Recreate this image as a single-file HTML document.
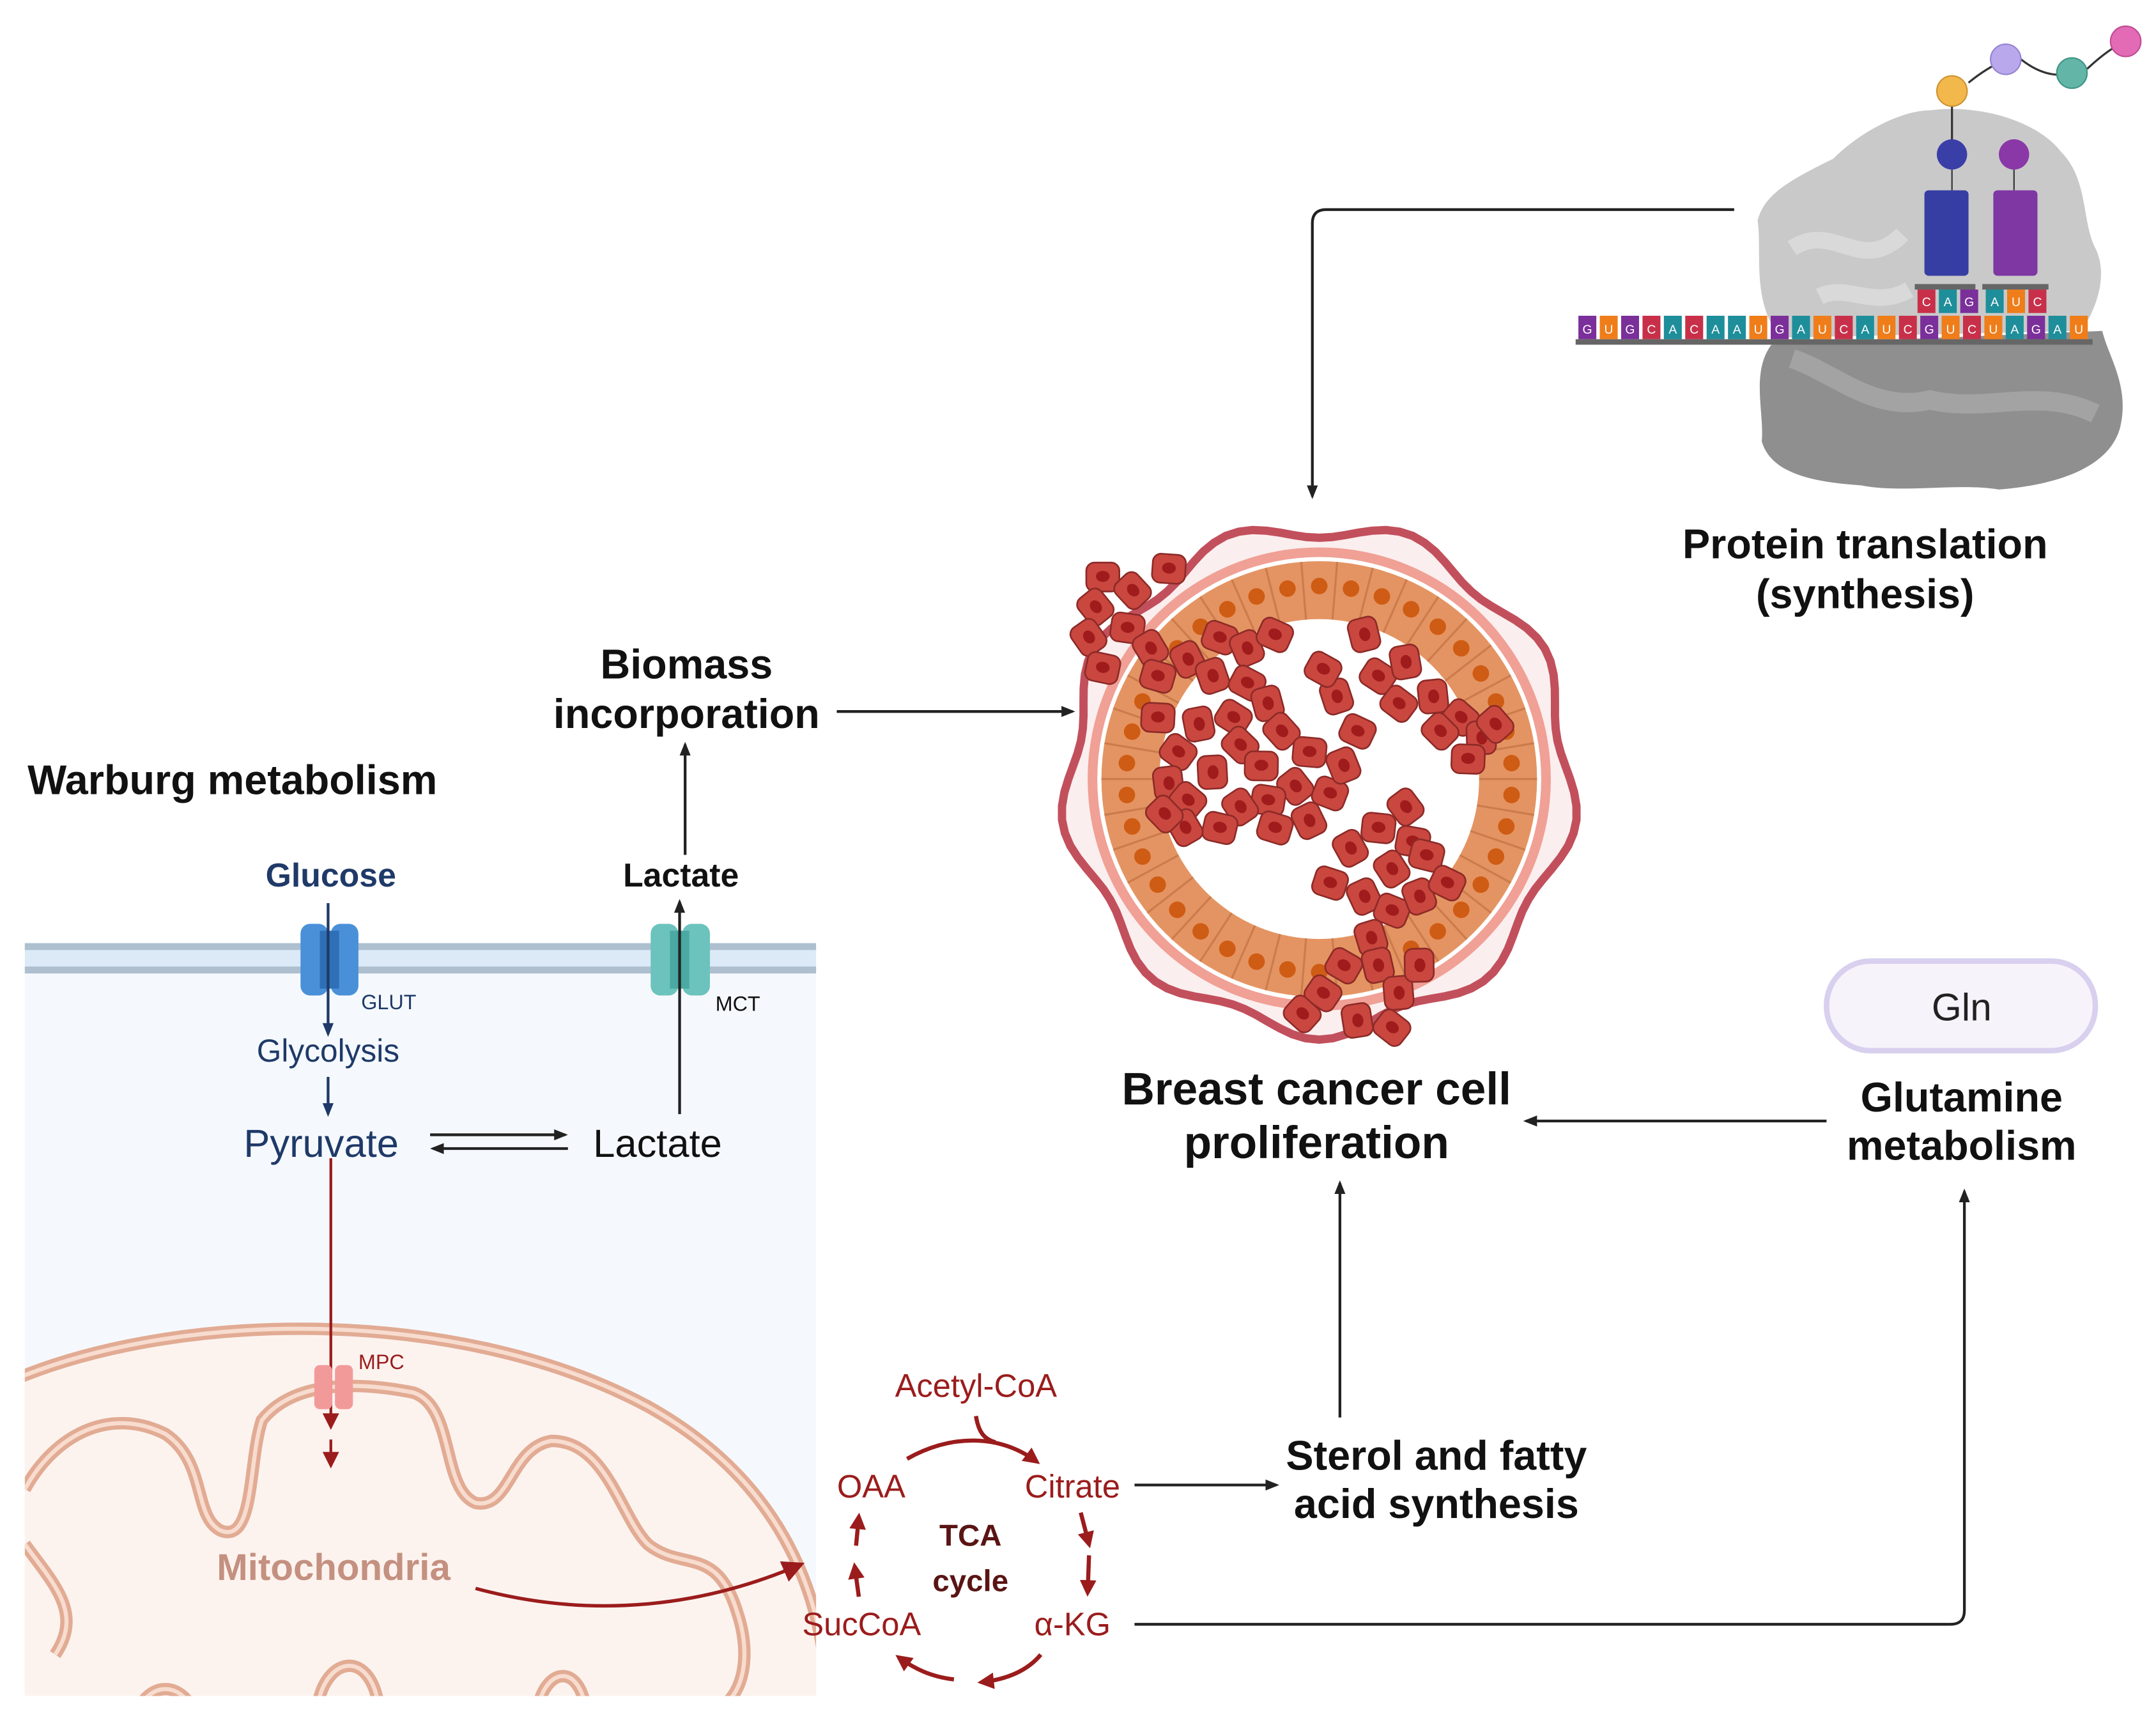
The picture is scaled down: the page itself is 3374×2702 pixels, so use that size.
<!DOCTYPE html>
<html><head><meta charset="utf-8"><style>
html,body{margin:0;padding:0;background:#fff}
svg{display:block}
text{font-family:"Liberation Sans",sans-serif}
.b{font-weight:bold}
</style></head><body>
<svg id="s" width="3374" height="2702" viewBox="0 0 1564 1252.5" xmlns="http://www.w3.org/2000/svg">
<defs>
<marker id="ak" markerWidth="10" markerHeight="10" refX="8" refY="5" orient="auto" markerUnits="userSpaceOnUse"><path d="M0,1 L10,5 L0,9 Z" fill="#222"/></marker>
<marker id="an" markerWidth="10" markerHeight="10" refX="8" refY="5" orient="auto" markerUnits="userSpaceOnUse"><path d="M0,1 L10,5 L0,9 Z" fill="#1f3a68"/></marker>
<marker id="ar" markerWidth="12" markerHeight="12" refX="9" refY="6" orient="auto" markerUnits="userSpaceOnUse"><path d="M0,0 L12,6 L0,12 Z" fill="#9b1c1c"/></marker>
<marker id="ar2" markerWidth="16" markerHeight="16" refX="12" refY="8" orient="auto" markerUnits="userSpaceOnUse"><path d="M0,0 L16,8 L0,16 Z" fill="#9b1c1c"/></marker>
<clipPath id="cell"><rect x="18" y="700" width="574" height="530"/></clipPath>
</defs>
<rect width="1564" height="1252.5" fill="#fff"/>

<rect x="18" y="700" width="574" height="530" fill="#f5f9fd"/>
<rect x="18" y="687" width="574" height="17" fill="#dce9f7"/>
<rect x="18" y="684" width="574" height="5" fill="#aebfcf"/>
<rect x="18" y="701" width="574" height="5" fill="#aebfcf"/>

<g clip-path="url(#cell)">
<path d="M0,1005 C120,950 330,945 470,1020 C560,1070 600,1150 600,1240 L0,1240 Z" fill="#fcf3ef" stroke="#e2ab93" stroke-width="9"/>
<path d="M0,1005 C120,950 330,945 470,1020 C560,1070 600,1150 600,1240" fill="none" stroke="#f7dccf" stroke-width="3"/>
<path d="M18,1080 C40,1040 80,1020 120,1040 C150,1060 140,1100 160,1110 C185,1120 180,1060 190,1030 C210,1005 250,1000 300,1010 C330,1020 320,1080 345,1090 C370,1095 370,1050 400,1045 C440,1045 450,1100 470,1120 C495,1140 520,1120 535,1170 C545,1200 540,1230 520,1240 M18,1120 C40,1150 60,1170 40,1200 M100,1240 C110,1220 130,1220 140,1240 M230,1240 C235,1200 270,1195 275,1240 M390,1240 C395,1210 420,1205 425,1240" fill="none" stroke="#e2ab93" stroke-width="9"/>
<path d="M18,1080 C40,1040 80,1020 120,1040 C150,1060 140,1100 160,1110 C185,1120 180,1060 190,1030 C210,1005 250,1000 300,1010 C330,1020 320,1080 345,1090 C370,1095 370,1050 400,1045 C440,1045 450,1100 470,1120 C495,1140 520,1120 535,1170 C545,1200 540,1230 520,1240 M18,1120 C40,1150 60,1170 40,1200 M100,1240 C110,1220 130,1220 140,1240 M230,1240 C235,1200 270,1195 275,1240 M390,1240 C395,1210 420,1205 425,1240" fill="none" stroke="#f7dccf" stroke-width="3"/>
</g>

<text x="20" y="576" font-size="30" class="b" fill="#111">Warburg metabolism</text>

<rect x="218" y="670" width="20" height="52" rx="7" fill="#4a90d9"/>
<rect x="240" y="670" width="20" height="52" rx="7" fill="#4a90d9"/>
<rect x="232" y="675" width="14" height="42" fill="#2f6fb5"/>
<text x="240" y="643" font-size="24" class="b" fill="#1f3a68" text-anchor="middle">Glucose</text>
<line x1="238" y1="655" x2="238" y2="750" stroke="#1f3a68" stroke-width="2" marker-end="url(#an)"/>
<text x="262" y="732" font-size="15" fill="#1f3a68">GLUT</text>
<text x="238" y="770" font-size="23" fill="#1f3a68" text-anchor="middle">Glycolysis</text>
<line x1="238" y1="781" x2="238" y2="808" stroke="#1f3a68" stroke-width="2" marker-end="url(#an)"/>
<text x="233" y="839" font-size="28.5" fill="#1f3a68" text-anchor="middle">Pyruvate</text>
<line x1="312" y1="823" x2="410" y2="823" stroke="#222" stroke-width="2" marker-end="url(#ak)"/>
<line x1="412" y1="833" x2="314" y2="833" stroke="#222" stroke-width="2" marker-end="url(#ak)"/>
<text x="477" y="839" font-size="28.5" fill="#111" text-anchor="middle">Lactate</text>

<rect x="472" y="670" width="20" height="52" rx="7" fill="#6cc3bd"/>
<rect x="495" y="670" width="20" height="52" rx="7" fill="#6cc3bd"/>
<rect x="486" y="675" width="14" height="42" fill="#4aa9a2"/>
<line x1="493" y1="808" x2="493" y2="654" stroke="#222" stroke-width="2" marker-end="url(#ak)"/>
<text x="519" y="733" font-size="15" fill="#111">MCT</text>
<text x="494" y="643" font-size="24" class="b" fill="#111" text-anchor="middle">Lactate</text>
<line x1="497" y1="620" x2="497" y2="540" stroke="#222" stroke-width="2" marker-end="url(#ak)"/>
<text x="498" y="492" font-size="30" class="b" fill="#111" text-anchor="middle">Biomass</text>
<text x="498" y="528" font-size="30" class="b" fill="#111" text-anchor="middle">incorporation</text>
<line x1="607" y1="516" x2="778" y2="516" stroke="#222" stroke-width="2" marker-end="url(#ak)"/>

<line x1="240" y1="840" x2="240" y2="1034" stroke="#9b1c1c" stroke-width="2" marker-end="url(#ar)"/>
<line x1="240" y1="1044" x2="240" y2="1062" stroke="#9b1c1c" stroke-width="2" marker-end="url(#ar)"/>
<rect x="228" y="990" width="13" height="32" rx="4" fill="#f29a9a"/>
<rect x="243" y="990" width="13" height="32" rx="4" fill="#f29a9a"/>
<text x="260" y="993" font-size="15" fill="#9b1c1c">MPC</text>
<text x="242" y="1146" font-size="27" class="b" fill="#c49080" text-anchor="middle">Mitochondria</text>
<path d="M345,1152 C430,1175 510,1165 580,1135" fill="none" stroke="#9b1c1c" stroke-width="2.5" marker-end="url(#ar2)"/>

<g fill="#9b1c1c" font-size="23.5" text-anchor="middle">
<text x="708" y="1013">Acetyl-CoA</text>
<text x="632" y="1086">OAA</text>
<text x="778" y="1086">Citrate</text>
<text x="625" y="1186">SucCoA</text>
<text x="778" y="1186">α-KG</text>
</g>
<text x="704" y="1121" font-size="22" class="b" fill="#5a1414" text-anchor="middle">TCA</text>
<text x="704" y="1154" font-size="22" class="b" fill="#5a1414" text-anchor="middle">cycle</text>
<g fill="none" stroke="#9b1c1c" stroke-width="3">
<path d="M658,1058 C690,1040 725,1040 752,1060" marker-end="url(#ar)"/>
<path d="M708,1027 C710,1040 715,1044 722,1046"/>
<path d="M784,1097 L790,1120" marker-end="url(#ar)"/>
<path d="M790,1128 L789,1155" marker-end="url(#ar)"/>
<path d="M755,1200 C745,1212 730,1218 712,1220" marker-end="url(#ar)"/>
<path d="M692,1218 C675,1216 663,1210 652,1202" marker-end="url(#ar)"/>
<path d="M623,1158 L620,1136" marker-end="url(#ar)"/>
<path d="M621,1121 L623,1100" marker-end="url(#ar)"/>
</g>

<line x1="823" y1="1077" x2="926" y2="1077" stroke="#222" stroke-width="2" marker-end="url(#ak)"/>
<text x="1042" y="1066" font-size="30" class="b" fill="#111" text-anchor="middle">Sterol and fatty</text>
<text x="1042" y="1101" font-size="30" class="b" fill="#111" text-anchor="middle">acid synthesis</text>
<line x1="972" y1="1028" x2="972" y2="858" stroke="#222" stroke-width="2" marker-end="url(#ak)"/>
<text x="955" y="801" font-size="33" class="b" fill="#111" text-anchor="middle">Breast cancer cell</text>
<text x="955" y="840" font-size="33" class="b" fill="#111" text-anchor="middle">proliferation</text>
<line x1="1325" y1="813" x2="1107" y2="813" stroke="#222" stroke-width="2" marker-end="url(#ak)"/>
<text x="1423" y="806" font-size="30" class="b" fill="#111" text-anchor="middle">Glutamine</text>
<text x="1423" y="841" font-size="30" class="b" fill="#111" text-anchor="middle">metabolism</text>
<rect x="1325" y="697" width="195" height="65" rx="32" fill="#f6f3fb" stroke="#d8d0ee" stroke-width="4"/>
<text x="1423" y="740" font-size="28" fill="#222" text-anchor="middle">Gln</text>
<path d="M823,1178 L1415,1178 Q1425,1178 1425,1168 L1425,864" fill="none" stroke="#222" stroke-width="2" marker-end="url(#ak)"/>
<path d="M1258,152 L962,152 Q952,152 952,162 L952,360" fill="none" stroke="#222" stroke-width="2" marker-end="url(#ak)"/>
<text x="1353" y="405" font-size="30" class="b" fill="#111" text-anchor="middle">Protein translation</text>
<text x="1353" y="441" font-size="30" class="b" fill="#111" text-anchor="middle">(synthesis)</text>

<path d="M1285,250 C1270,270 1280,300 1278,320 C1285,345 1320,350 1350,352 C1380,358 1420,350 1450,355 C1490,352 1530,340 1538,310 C1545,280 1530,260 1525,240 Z" fill="#8f8f8f"/>
<path d="M1300,260 C1330,270 1360,300 1400,290 C1440,300 1480,280 1520,300" fill="none" stroke="#a3a3a3" stroke-width="14"/>
<path d="M1285,235 C1272,210 1278,180 1275,160 C1280,140 1300,130 1330,115 C1350,95 1380,80 1400,80 C1440,75 1480,90 1495,110 C1515,130 1510,160 1520,180 C1530,200 1520,225 1510,240 L1290,245 Z" fill="#c9c9c9"/>
<path d="M1300,180 C1330,160 1350,200 1380,170 M1320,215 C1340,205 1360,225 1385,210" fill="none" stroke="#d9d9d9" stroke-width="12"/>
<line x1="1416" y1="66" x2="1416" y2="112" stroke="#333" stroke-width="1.5"/>
<path d="M1428,60 Q1440,50 1455,43 M1466,43 Q1485,58 1503,53 M1514,50 Q1530,35 1542,30" fill="none" stroke="#333" stroke-width="1.5"/>
<circle cx="1416" cy="66" r="11" fill="#f2b84b" stroke="#d09330"/>
<circle cx="1455" cy="43" r="11" fill="#b9a8ec" stroke="#9683d0"/>
<circle cx="1503" cy="53" r="11" fill="#63b6a7" stroke="#3f9486"/>
<circle cx="1542" cy="30" r="11" fill="#e36bb6" stroke="#c14b94"/>
<circle cx="1416" cy="112" r="11" fill="#3a3fa8"/>
<circle cx="1461" cy="112" r="11" fill="#8a37a8"/>
<line x1="1416" y1="123" x2="1416" y2="138" stroke="#333"/><line x1="1461" y1="123" x2="1461" y2="138" stroke="#333"/>
<rect x="1396" y="138" width="32" height="62" rx="3" fill="#363ea3"/>
<rect x="1446" y="138" width="32" height="62" rx="3" fill="#7e37a3"/>
<rect x="1389" y="206" width="44" height="4" fill="#666"/><rect x="1438" y="206" width="48" height="4" fill="#666"/>
<g id="codon"></g>
<rect x="1143" y="246" width="375" height="4" fill="#666"/>
<g id="mrna"></g>

<g id="tumor"></g>
</svg>
<script>
var NS="http://www.w3.org/2000/svg";
function el(p,t,a,txt){var e=document.createElementNS(NS,t);for(var k in a)e.setAttribute(k,a[k]);if(txt)e.textContent=txt;p.appendChild(e);return e;}
var col={G:"#7b2f9a",U:"#ef7d1a",C:"#c8304a",A:"#1e8e9a"};
var seq="GUGCACAAUGAUCAUCGUCUAGAU",m=document.getElementById("mrna");
for(var i=0;i<seq.length;i++){var x=1145+i*15.5;el(m,"rect",{x:x,y:229,width:13,height:17,fill:col[seq[i]]});el(m,"text",{x:x+6.5,y:242,"font-size":9,fill:"#fff","text-anchor":"middle"},seq[i]);}
var cd="CAGAUC",c=document.getElementById("codon");
for(var i=0;i<6;i++){var x=1391+i*15.5+(i>2?3:0);el(c,"rect",{x:x,y:210,width:13,height:17,fill:col[cd[i]]});el(c,"text",{x:x+6.5,y:222,"font-size":9,fill:"#fff","text-anchor":"middle"},cd[i]);}
var T=document.getElementById("tumor"),cx=957,cy=565;
var d="";for(var a=0;a<=360;a+=3){var r=182+7*Math.sin(a*Math.PI/180*9);var X=cx+r*Math.cos(a*Math.PI/180),Y=cy+r*Math.sin(a*Math.PI/180);d+=(a?"L":"M")+X.toFixed(1)+","+Y.toFixed(1);}
el(T,"path",{d:d+"Z",fill:"#fbeeee",stroke:"#c2505c","stroke-width":6});
el(T,"circle",{cx:cx,cy:cy,r:168,fill:"#f0a095"});
el(T,"circle",{cx:cx,cy:cy,r:161,fill:"#fff"});
el(T,"circle",{cx:cx,cy:cy,r:158,fill:"#e49462"});
el(T,"circle",{cx:cx,cy:cy,r:116,fill:"#fff"});
for(var i=0;i<38;i++){var a=i*2*Math.PI/38;var x1=cx+116*Math.cos(a),y1=cy+116*Math.sin(a),x2=cx+158*Math.cos(a),y2=cy+158*Math.sin(a);el(T,"line",{x1:x1,y1:y1,x2:x2,y2:y2,stroke:"#cc7c4c","stroke-width":1.5});var b=a+Math.PI/38;el(T,"circle",{cx:cx+140*Math.cos(b),cy:cy+140*Math.sin(b),r:6,fill:"#cf5c14"});}
var pts=[[800,418],[822,428],[848,412],[795,440],[818,455],[790,462],[800,484],[835,470],[840,490],[862,478],[885,462],[905,470],[925,460],[880,490],[905,495],[920,510],[895,520],[870,525],[855,545],[848,568],[862,580],[880,560],[900,540],[915,555],[930,530],[950,545],[940,570],[920,580],[900,585],[885,600],[860,600],[925,600],[950,595],[965,575],[975,555],[985,530],[970,505],[960,485],[990,460],[1000,490],[1020,480],[1015,510],[1040,505],[1060,520],[1075,535],[1045,530],[1065,550],[1085,525],[1000,600],[1020,585],[1025,610],[1010,630],[1035,620],[980,615],[965,640],[990,650],[1010,660],[1030,650],[1050,640],[995,680],[975,700],[1000,700],[960,720],[985,740],[1010,745],[1015,720],[945,735],[1030,700],[845,590],[840,520]];
for(var i=0;i<pts.length;i++){var p=pts[i],rot=(i*47)%90;var g=el(T,"g",{transform:"translate("+p[0]+","+p[1]+") rotate("+rot+")"});el(g,"rect",{x:-12,y:-10,width:24,height:21,rx:6,fill:"#c9473f",stroke:"#8c2a27","stroke-width":1.2});el(g,"ellipse",{cx:0,cy:0,rx:5,ry:4,fill:"#a01c1c"});}
</script>
</body></html>
